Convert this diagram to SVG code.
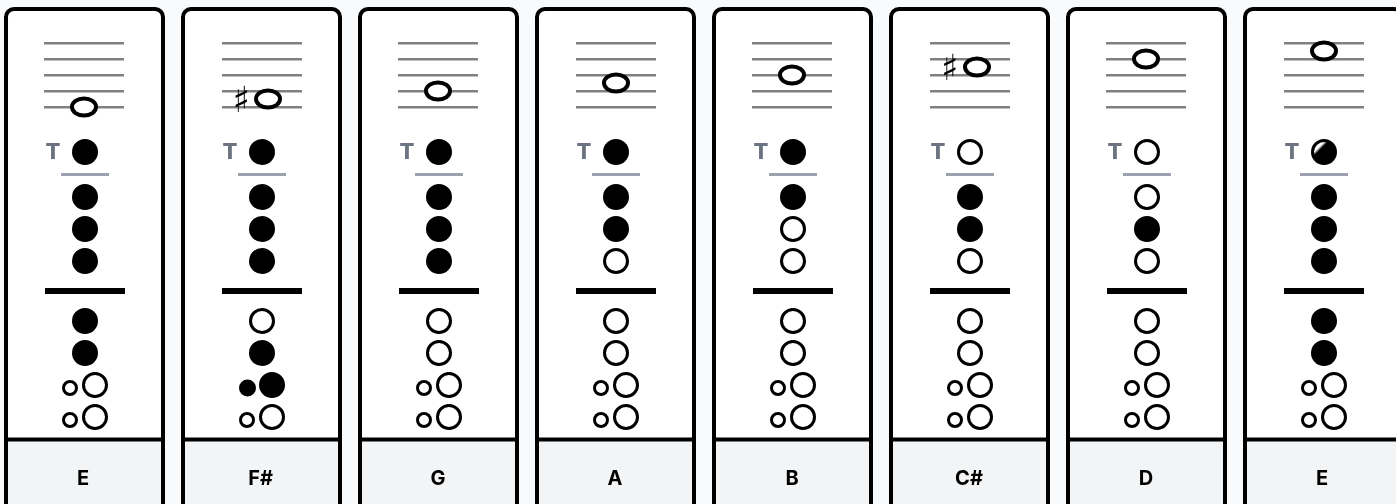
<svg xmlns="http://www.w3.org/2000/svg" width="1396" height="504" viewBox="0 0 1396 504">
<style>
.card{fill:#fff;stroke:#000;stroke-width:4}
.foot{fill:#f3f4f6}
.sep{stroke:#000;stroke-width:4}
.staff{stroke:#808080;stroke-width:2.500}
.note{fill:#fff;stroke:#000;stroke-width:4}
.sharp{font-family:"DejaVu Sans",sans-serif;font-size:36px;fill:#000;text-anchor:middle;filter:url(#gray)}
.t{font-family:Inter,"Liberation Sans",sans-serif;font-weight:800;font-size:22px;fill:#6b7280;text-anchor:middle;filter:url(#gray)}
.tb{stroke:#9ca3af;stroke-width:3}
.bar{stroke:#000;stroke-width:6}
.name{font-family:Inter,"Liberation Sans",sans-serif;font-weight:700;font-size:20px;fill:#000;text-anchor:middle;filter:url(#gray)}
.c{fill:#000;stroke:#000;stroke-width:3}
.o{fill:#fff;stroke:#000;stroke-width:3}
</style>
<defs>
<filter id="gray" color-interpolation-filters="sRGB"><feOffset dx="0" dy="0"/></filter>
<linearGradient id="half" gradientUnits="userSpaceOnUse" x1="78" y1="143" x2="88" y2="153"><stop offset="0.3" stop-color="#fff"/><stop offset="0.5" stop-color="#000"/></linearGradient>
<g id="frame"><rect class="card" x="6" y="9" width="157" height="520" rx="8"/><rect class="foot" x="8" y="441" width="153" height="63"/><path class="sep" d="M8 439.500H161"/></g>
<path id="lines" class="staff" d="M0 43.250h80M0 59.250h80M0 75.250h80M0 91.250h80M0 107.250h80"/>
<g id="rules"><path class="tb" d="M61 174.500h48"/><path class="bar" d="M45 291h80"/></g>
</defs>
<rect width="1396" height="504" fill="#f9fafb"/>

<g id="card-1"><use href="#frame"/><use href="#rules"/><use href="#lines" x="44"/><ellipse class="note" cx="84" cy="107" rx="12" ry="8.500"/>
<text class="t" x="53" y="159">T</text><circle class="c" cx="85" cy="152" r="11.500"/>
<circle class="c" cx="85" cy="197" r="11.500"/><circle class="c" cx="85" cy="229" r="11.500"/><circle class="c" cx="85" cy="261" r="11.500"/>
<circle class="c" cx="85" cy="321" r="11.500"/><circle class="c" cx="85" cy="353" r="11.500"/><circle class="o" cx="70" cy="388" r="6.500"/><circle class="o" cx="95" cy="385" r="11.500"/><circle class="o" cx="70" cy="420" r="6.500"/><circle class="o" cx="95" cy="417" r="11.500"/>
<text class="name" x="83" y="485">E</text></g>

<g id="card-2" transform="translate(177)"><use href="#frame"/><use href="#rules"/><use href="#lines" x="45"/><text class="sharp" x="64.500" y="112">♯</text><ellipse class="note" cx="91" cy="99" rx="12" ry="8.500"/>
<text class="t" x="53" y="159">T</text><circle class="c" cx="85" cy="152" r="11.500"/>
<circle class="c" cx="85" cy="197" r="11.500"/><circle class="c" cx="85" cy="229" r="11.500"/><circle class="c" cx="85" cy="261" r="11.500"/>
<circle class="o" cx="85" cy="321" r="11.500"/><circle class="c" cx="85" cy="353" r="11.500"/><circle class="c" cx="70.500" cy="388" r="7"/><circle class="c" cx="95" cy="385" r="11.500"/><circle class="o" cx="70" cy="420" r="6.500"/><circle class="o" cx="95" cy="417" r="11.500"/>
<text class="name" x="83.500" y="485">F#</text></g>

<g id="card-3" transform="translate(354)"><use href="#frame"/><use href="#rules"/><use href="#lines" x="44"/><ellipse class="note" cx="84" cy="91" rx="12" ry="8.500"/>
<text class="t" x="53" y="159">T</text><circle class="c" cx="85" cy="152" r="11.500"/>
<circle class="c" cx="85" cy="197" r="11.500"/><circle class="c" cx="85" cy="229" r="11.500"/><circle class="c" cx="85" cy="261" r="11.500"/>
<circle class="o" cx="85" cy="321" r="11.500"/><circle class="o" cx="85" cy="353" r="11.500"/><circle class="o" cx="70" cy="388" r="6.500"/><circle class="o" cx="95" cy="385" r="11.500"/><circle class="o" cx="70" cy="420" r="6.500"/><circle class="o" cx="95" cy="417" r="11.500"/>
<text class="name" x="84" y="485">G</text></g>

<g id="card-4" transform="translate(531)"><use href="#frame"/><use href="#rules"/><use href="#lines" x="45"/><ellipse class="note" cx="85" cy="83" rx="12" ry="8.500"/>
<text class="t" x="53" y="159">T</text><circle class="c" cx="85" cy="152" r="11.500"/>
<circle class="c" cx="85" cy="197" r="11.500"/><circle class="c" cx="85" cy="229" r="11.500"/><circle class="o" cx="85" cy="261" r="11.500"/>
<circle class="o" cx="85" cy="321" r="11.500"/><circle class="o" cx="85" cy="353" r="11.500"/><circle class="o" cx="70" cy="388" r="6.500"/><circle class="o" cx="95" cy="385" r="11.500"/><circle class="o" cx="70" cy="420" r="6.500"/><circle class="o" cx="95" cy="417" r="11.500"/>
<text class="name" x="84" y="485">A</text></g>

<g id="card-5" transform="translate(708)"><use href="#frame"/><use href="#rules"/><use href="#lines" x="44"/><ellipse class="note" cx="84" cy="75" rx="12" ry="8.500"/>
<text class="t" x="53" y="159">T</text><circle class="c" cx="85" cy="152" r="11.500"/>
<circle class="c" cx="85" cy="197" r="11.500"/><circle class="o" cx="85" cy="229" r="11.500"/><circle class="o" cx="85" cy="261" r="11.500"/>
<circle class="o" cx="85" cy="321" r="11.500"/><circle class="o" cx="85" cy="353" r="11.500"/><circle class="o" cx="70" cy="388" r="6.500"/><circle class="o" cx="95" cy="385" r="11.500"/><circle class="o" cx="70" cy="420" r="6.500"/><circle class="o" cx="95" cy="417" r="11.500"/>
<text class="name" x="84" y="485">B</text></g>

<g id="card-6" transform="translate(885)"><use href="#frame"/><use href="#rules"/><use href="#lines" x="45"/><text class="sharp" x="65" y="80">♯</text><ellipse class="note" cx="92" cy="67" rx="12" ry="8.500"/>
<text class="t" x="53" y="159">T</text><circle class="o" cx="85" cy="152" r="11.500"/>
<circle class="c" cx="85" cy="197" r="11.500"/><circle class="c" cx="85" cy="229" r="11.500"/><circle class="o" cx="85" cy="261" r="11.500"/>
<circle class="o" cx="85" cy="321" r="11.500"/><circle class="o" cx="85" cy="353" r="11.500"/><circle class="o" cx="70" cy="388" r="6.500"/><circle class="o" cx="95" cy="385" r="11.500"/><circle class="o" cx="70" cy="420" r="6.500"/><circle class="o" cx="95" cy="417" r="11.500"/>
<text class="name" x="84" y="485">C#</text></g>

<g id="card-7" transform="translate(1062)"><use href="#frame"/><use href="#rules"/><use href="#lines" x="44"/><ellipse class="note" cx="84" cy="59" rx="12" ry="8.500"/>
<text class="t" x="53" y="159">T</text><circle class="o" cx="85" cy="152" r="11.500"/>
<circle class="o" cx="85" cy="197" r="11.500"/><circle class="c" cx="85" cy="229" r="11.500"/><circle class="o" cx="85" cy="261" r="11.500"/>
<circle class="o" cx="85" cy="321" r="11.500"/><circle class="o" cx="85" cy="353" r="11.500"/><circle class="o" cx="70" cy="388" r="6.500"/><circle class="o" cx="95" cy="385" r="11.500"/><circle class="o" cx="70" cy="420" r="6.500"/><circle class="o" cx="95" cy="417" r="11.500"/>
<text class="name" x="84" y="485">D</text></g>

<g id="card-8" transform="translate(1239)"><use href="#frame"/><use href="#rules"/><use href="#lines" x="45"/><ellipse class="note" cx="85" cy="51" rx="12" ry="8.500"/>
<text class="t" x="53" y="159">T</text><circle class="c" cx="85" cy="152" r="11.500"/><circle fill="url(#half)" cx="85" cy="152" r="10"/>
<circle class="c" cx="85" cy="197" r="11.500"/><circle class="c" cx="85" cy="229" r="11.500"/><circle class="c" cx="85" cy="261" r="11.500"/>
<circle class="c" cx="85" cy="321" r="11.500"/><circle class="c" cx="85" cy="353" r="11.500"/><circle class="o" cx="70" cy="388" r="6.500"/><circle class="o" cx="95" cy="385" r="11.500"/><circle class="o" cx="70" cy="420" r="6.500"/><circle class="o" cx="95" cy="417" r="11.500"/>
<text class="name" x="83" y="485">E</text></g>
</svg>
